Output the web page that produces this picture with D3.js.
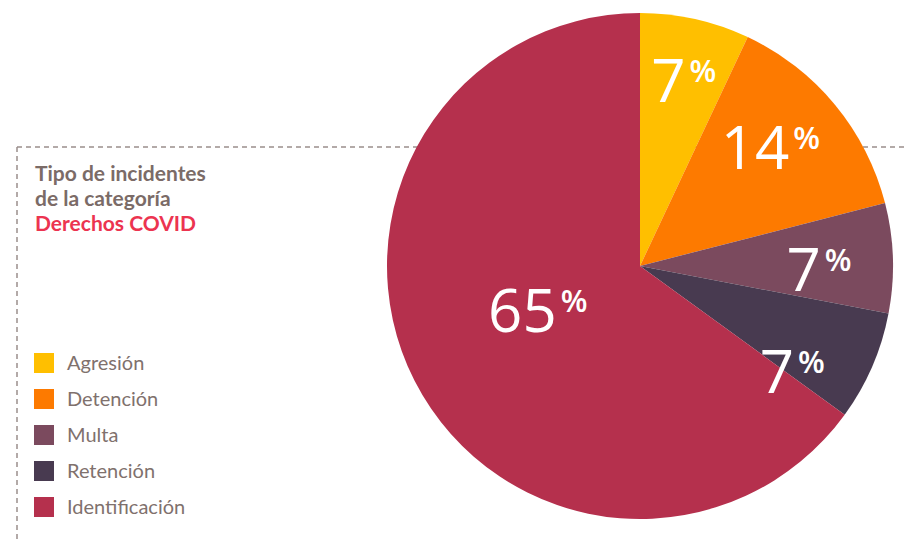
<!DOCTYPE html>
<html>
<head>
<meta charset="utf-8">
<script src="https://cdn.jsdelivr.net/npm/d3@7"></script>
<style>
  body { margin: 0; background: #fff; }
  svg { display: block; }
</style>
</head>
<body>
<svg id="chart" width="908" height="539"></svg>
<script>
// data
const categories = ["Agresión", "Detención", "Multa", "Retención", "Identificación"];
const values = [7, 14, 7, 7, 65];
const colors = ["#ffbf00", "#fd7a00", "#7b4a5e", "#483a50", "#b5304d"];
const titleLines = ["Tipo de incidentes", "de la categoría"];
const titleHighlight = "Derechos COVID";

// label nudges so the numbers sit like in the original
const labelNudge = { "Agresión": [4, -7], "Detención": [-10, -2], "Multa": [-3, 10], "Retención": [-15, 34], "Identificación": [-3, -6] };

const svg = d3.select("#chart");
const cx = 640, cy = 266, r = 253;

// dashed frame behind the pie
const frame = svg.append("g")
  .attr("fill", "none")
  .attr("stroke", "#9b8f8c")
  .attr("stroke-width", 1.5)
  .attr("stroke-dasharray", "5,4");
frame.append("line").attr("x1", 17).attr("x2", 908).attr("y1", 147).attr("y2", 147);
frame.append("line").attr("x1", 17).attr("x2", 17).attr("y1", 147).attr("y2", 539);

// pie
const pie = d3.pie().sort(null).value(d => d.value);
const arcs = pie(categories.map((c, i) => ({ cat: c, value: values[i], color: colors[i] })));
const arc = d3.arc().innerRadius(0).outerRadius(r);

const g = svg.append("g").attr("transform", `translate(${cx},${cy})`);
g.selectAll("path.slice")
  .data(arcs)
  .join("path")
  .attr("class", "slice")
  .attr("d", arc)
  .attr("fill", d => d.data.color);

// labels
const total = d3.sum(values);
const labelArc = d3.arc().innerRadius(d => d.data.value > 50 ? r * 0.44 : r * 0.72)
  .outerRadius(d => d.data.value > 50 ? r * 0.44 : r * 0.72);

g.selectAll("text.pct")
  .data(arcs)
  .join("text")
  .attr("class", "pct")
  .attr("transform", d => {
    const [x, y] = labelArc.centroid(d);
    const n = labelNudge[d.data.cat] || [0, 0];
    return `translate(${x + n[0]},${y + n[1] + 21})`;
  })
  .attr("text-anchor", "middle")
  .attr("fill", "#fff")
  .attr("font-family", "'Open Sans', sans-serif")
  .attr("font-weight", 500)
  .attr("font-size", 60)
  .each(function(d) {
    const t = d3.select(this);
    t.append("tspan").text(Math.round(d.data.value / total * 100));
    t.append("tspan").text("%").attr("font-size", 31).attr("font-weight", 600)
      .attr("dx", 4).attr("dy", -20);
  });

// title
const title = svg.append("text")
  .attr("x", 35)
  .attr("font-family", "Lato, sans-serif")
  .attr("font-weight", 700)
  .attr("font-size", 21);
titleLines.forEach((t, i) => {
  title.append("tspan").attr("x", 35).attr("y", 181 + i * 25).attr("fill", "#7b6b67").text(t);
});
title.append("tspan").attr("x", 35).attr("y", 231).attr("fill", "#ec3450").text(titleHighlight);

// legend
const legend = svg.append("g").attr("transform", "translate(34,353)");
const rows = legend.selectAll("g.row")
  .data(categories)
  .join("g")
  .attr("class", "row")
  .attr("transform", (d, i) => `translate(0,${i * 36})`);
rows.append("rect").attr("width", 20).attr("height", 20).attr("fill", (d, i) => colors[i]);
rows.append("text")
  .attr("x", 33).attr("y", 17)
  .attr("fill", "#7f716d")
  .attr("font-family", "Lato, sans-serif")
  .attr("font-size", 20)
  .text(d => d);
</script>
</body>
</html>
